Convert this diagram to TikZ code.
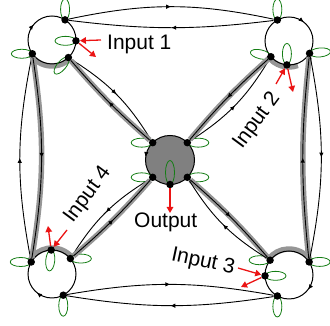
\documentclass[tikz,border=0pt]{standalone}
\usepackage{fontspec}
\setmainfont{Liberation Sans}
\usetikzlibrary{arrows.meta,decorations.markings,calc,shapes.geometric}
\pgfdeclarelayer{bg}
\pgfdeclarelayer{mid}
\pgfsetlayers{bg,mid,main}
\definecolor{lg}{RGB}{20,125,20}
\definecolor{bandc}{RGB}{150,150,150}
\definecolor{hubc}{RGB}{128,128,128}
\definecolor{rd}{RGB}{235,20,20}
\tikzset{
 ring/.style={circle,draw,line width=1pt,minimum size=48pt,inner sep=0pt,outer sep=0pt},
 hub/.style={ring,fill=hubc,minimum size=49pt},
 dotn/.style={circle,fill=black,inner sep=0pt,minimum size=7.5pt},
 gl/.style={ellipse,draw=lg,line width=0.8pt,minimum width=21pt,minimum height=9pt,inner sep=0pt},
 ln/.style={line width=0.9pt},
 midarrow/.style={postaction={decorate,decoration={markings,mark=at position 0.5 with {\arrow{Latex[length=5pt,width=4.5pt]}}}}},
 band/.style={preaction={draw=bandc,line width=5.5pt}},
 arcband/.style={draw=bandc,line width=5.5pt},
 redarr/.style={draw=rd,line width=1.3pt,-{Triangle[length=6pt,width=6.5pt]}},
 lab/.style={font=\fontsize{21}{24}\selectfont,inner sep=0pt},
 circarr/.style={line width=0.9pt,-{Latex[length=5pt,width=4.5pt]}},
}
\begin{document}
\begin{tikzpicture}[x=1pt,y=1pt]
\useasboundingbox (0,0) rectangle (330,326);
% rings
\begin{pgfonlayer}{bg}
\draw[arcband] ($(52,286)+(215:26)$) arc[start angle=215,end angle=313,radius=26];
\draw[arcband] ($(289,285)+(215:26)$) arc[start angle=215,end angle=290,radius=26];
\draw[arcband] ($(52,52)+(40:26)$) arc[start angle=40,end angle=150,radius=26];
\draw[arcband] ($(289,51)+(33:26)$) arc[start angle=33,end angle=142,radius=26];
\node[ring] (TLc) at (52,286) {};
\node[ring] (TRc) at (289,285) {};
\node[ring] (BLc) at (52,52) {};
\node[ring] (BRc) at (289,51) {};
\node[hub] (C) at (170,166) {};
\end{pgfonlayer}
% dots
\node[dotn] (t1) at (TLc.57) {};
\node[dotn] (r1) at (TLc.358) {};
\node[dotn] (d1) at (TLc.313) {};
\node[dotn] (l1) at (TLc.215) {};
\node[dotn] (t2) at (TRc.119) {};
\node[dotn] (l2) at (TRc.221) {};
\node[dotn] (b2) at (TRc.265) {};
\node[dotn] (r2) at (TRc.329) {};
\node[dotn] (l3) at (BLc.150) {};
\node[dotn] (t3) at (BLc.92) {};
\node[dotn] (r3) at (BLc.40) {};
\node[dotn] (b3) at (BLc.298) {};
\node[dotn] (ul4) at (BRc.142) {};
\node[dotn] (l4) at (BRc.182) {};
\node[dotn] (r4) at (BRc.33) {};
\node[dotn] (b4) at (BRc.241) {};
\node[dotn] (cul) at (C.135) {};
\node[dotn] (cur) at (C.45) {};
\node[dotn] (cll) at (C.225) {};
\node[dotn] (clr) at (C.315) {};
\node[dotn] (cb) at (C.270) {};
% green loops
\begin{pgfonlayer}{mid}
\node[gl,rotate=90] (g1) at ($(t1)+(90:10.5)$) {};
\node[gl,rotate=180] (g2) at ($(r1)+(180:10.5)$) {};
\node[gl,rotate=230] (g3) at ($(d1)+(230:10.5)$) {};
\node[gl,rotate=180] (g4) at ($(l1)+(180:10.5)$) {};
\node[gl,rotate=90] (g5) at ($(t2)+(90:10.5)$) {};
\node[gl,rotate=167] (g6) at ($(l2)+(167:10.5)$) {};
\node[gl,rotate=90] (g7) at ($(b2)+(90:11)$) {};
\node[gl,rotate=5] (g8) at ($(r2)+(5:10.5)$) {};
\node[gl,rotate=180] (g9) at ($(l3)+(180:10.5)$) {};
\node[gl,rotate=265] (g10) at ($(t3)+(265:10.5)$) {};
\node[gl,rotate=0] (g11) at ($(r3)+(0:10.5)$) {};
\node[gl,rotate=270] (g12) at ($(b3)+(270:10.5)$) {};
\node[gl,rotate=180] (g13) at ($(ul4)+(180:10.5)$) {};
\node[gl,rotate=0] (g14) at ($(l4)+(0:10.5)$) {};
\node[gl,rotate=0] (g15) at ($(r4)+(0:10.5)$) {};
\node[gl,rotate=270] (g16) at ($(b4)+(270:10.5)$) {};
\node[gl,rotate=180] (g17) at ($(cul)+(180:11)$) {};
\node[gl,rotate=0] (g18) at ($(cur)+(0:11)$) {};
\node[gl,rotate=180] (g19) at ($(cll)+(180:11)$) {};
\node[gl,rotate=0] (g20) at ($(clr)+(0:11)$) {};
\node[gl,rotate=90,minimum width=24pt] (g21) at ($(cb)+(90:12)$) {};
\end{pgfonlayer}
% ring arrows
\draw[circarr] ($(52,286)+(150:24)$) arc[start angle=150,end angle=140,radius=24];
\draw[circarr] ($(289,285)+(62:24)$) arc[start angle=62,end angle=52,radius=24];
\draw[circarr] ($(289,51)+(-27:24)$) arc[start angle=-27,end angle=-37,radius=24];
\draw[circarr] ($(52,52)+(241:24)$) arc[start angle=241,end angle=231,radius=24];
\draw[circarr] ($(170,166)+(163:24.5)$) arc[start angle=163,end angle=173,radius=24.5];
% outer lenses
\draw[ln,midarrow] (t1) to[bend left=12] (t2);
\draw[ln,midarrow] (t2) to[bend left=7] (t1);
\draw[ln,midarrow] (b3) to[bend left=10] (b4);
\draw[ln,midarrow] (b4) to[bend left=9] (b3);
\draw[ln,midarrow] (l3) to[bend left=11] (l1);
\draw[ln,band,midarrow] (l1) to[bend left=9] (l3);
\draw[ln,band,midarrow] (r4) to[bend left=6] (r2);
\draw[ln,midarrow] (r2) to[bend left=11] (r4);
% diagonals
\draw[ln,midarrow] (d1) to[bend left=13] (cul);
\draw[ln,band,midarrow] (cul) to[bend left=4] (d1);
\draw[ln,midarrow] (cur) to[bend right=13] (l2);
\draw[ln,band,midarrow] (l2) to[bend right=4] (cur);
\draw[ln,midarrow] (cll) to[bend right=13] (r3);
\draw[ln,band,midarrow] (r3) to[bend right=4] (cll);
\draw[ln,band,midarrow] (clr) to[bend left=4] (ul4);
\draw[ln,midarrow] (ul4) to[bend left=13] (clr);
% red arrows
\coordinate (i1a) at (101,286);
\coordinate (i1b) at (96,269);
\coordinate (i2a) at (276,242);
\coordinate (i2b) at (293,234);
\coordinate (i3a) at (238,58);
\coordinate (i3b) at (241,39);
\coordinate (i4a) at (67,96);
\coordinate (i4b) at (48,100);
\coordinate (o1) at (170,113);
\draw[redarr] (i1a) -- (r1);
\draw[redarr] (r1) -- (i1b);
\draw[redarr] (i2a) -- (b2);
\draw[redarr] (b2) -- (i2b);
\draw[redarr] (i3a) -- (l4);
\draw[redarr] (l4) -- (i3b);
\draw[redarr] (i4a) -- (t3);
\draw[redarr] (t3) -- (i4b);
\draw[redarr] (cb) -- (o1);
% labels
\node[lab,anchor=base west] (in1) at (107,276) {Input 1};
\node[lab,rotate=53.5] (in2) at (257,205) {Input 2};
\node[lab,rotate=-12] (in3) at (203,64) {Input 3};
\node[lab,rotate=53.5] (in4) at (88,131) {Input 4};
\node[lab,anchor=base west] (out) at (134,98) {Output};
\end{tikzpicture}
\end{document}
